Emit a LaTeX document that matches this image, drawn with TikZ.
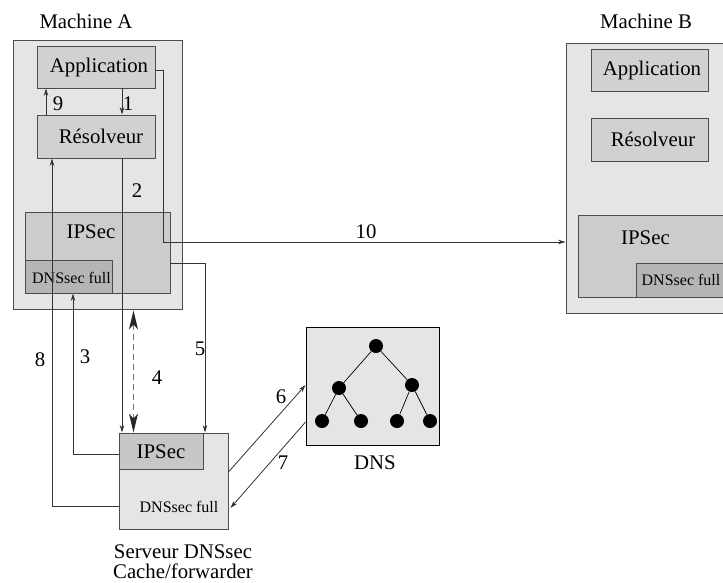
\documentclass[tikz,border=0pt]{standalone}
\usepackage{fontspec}
\setmainfont{Liberation Serif}
\usetikzlibrary{arrows.meta,calc}
\tikzset{
  outerbox/.style={draw=black!70, fill=black!10, line width=0.9pt, inner sep=0pt},
  innerbox/.style={draw=black!70, fill=black!18, line width=0.9pt, inner sep=0pt},
  ipbox/.style={draw=black!70, fill=black!20, line width=0.9pt, inner sep=0pt},
  fullbox/.style={draw=black!70, fill=black!29, line width=0.9pt, inner sep=0pt},
  txt/.style={inner sep=0pt, font=\fontsize{20.8}{22}\selectfont},
  smalltxt/.style={inner sep=0pt, font=\fontsize{16}{18}\selectfont},
  conn/.style={draw=black!80, line width=0.8pt},
  arr/.style={conn, -{Stealth[length=7.5pt,width=4.5pt]}},
  bighead/.tip={Stealth[length=19pt,width=9pt,inset=5pt,color=black!85,line width=0pt]},
  dashconn/.style={draw=black!55, line width=1.4pt, dash pattern=on 6pt off 4pt,
    arrows={bighead-bighead}},
  dotnode/.style={circle, fill=black, inner sep=0pt, minimum size=14pt},
  treeedge/.style={draw=black, line width=0.7pt}
}
\begin{document}
\begin{tikzpicture}[x=1pt,y=-1pt]
\useasboundingbox (0,0) rectangle (723,582);

% Machine A
\node[outerbox, minimum width=169pt, minimum height=269pt] (machA) at (97.5,174.5) {};
\node[innerbox, minimum width=118pt, minimum height=42pt] (appA) at (96,67) {};
\node[innerbox, minimum width=118pt, minimum height=43pt] (resA) at (96,136.5) {};
\node[ipbox, minimum width=145pt, minimum height=81pt] (ipsecA) at (97.5,252.5) {};
\node[fullbox, minimum width=87pt, minimum height=33pt] (dnsA) at (68.5,276.5) {};
\node[txt] (tMA) at (86,21) {Machine A};
\node[txt] (tAppA) at (99,67) {Application};
\node[txt] (tResA) at (101,136.5) {Résolveur};
\node[txt] (tIpA) at (91,232) {IPSec};
\node[smalltxt] (tDnsA) at (71.5,278) {DNSsec full};

% Machine B
\node[outerbox, minimum width=159pt, minimum height=270pt] (machB) at (645.5,178) {};
\node[innerbox, minimum width=117pt, minimum height=42pt] (appB) at (649.5,70) {};
\node[innerbox, minimum width=117pt, minimum height=43pt] (resB) at (649.5,139.5) {};
\node[ipbox, minimum width=147pt, minimum height=82pt] (ipsecB) at (651.5,256) {};
\node[fullbox, minimum width=89pt, minimum height=34pt] (dnsB) at (680.5,280) {};
\node[txt] (tMB) at (646,21) {Machine B};
\node[txt] (tAppB) at (652,70) {Application};
\node[txt] (tResB) at (653,139.5) {Résolveur};
\node[txt] (tIpB) at (645.5,238) {IPSec};
\node[smalltxt] (tDnsB) at (681,280) {DNSsec full};

% Serveur
\node[outerbox, minimum width=109pt, minimum height=96pt] (srv) at (173.5,481) {};
\node[fullbox, fill=black!22, minimum width=84pt, minimum height=36pt] (srvip) at (161,451) {};
\node[txt] (tSrvIp) at (161,452) {IPSec};
\node[smalltxt] (tSrvDns) at (179,507) {DNSsec full};
\node[txt] (tSrv1) at (183,552) {Serveur DNSsec};
\node[txt] (tSrv2) at (183,571) {Cache/forwarder};

% DNS
\node[outerbox, draw=black, minimum width=133pt, minimum height=118pt] (dnsbox) at (372.5,386) {};
\node[txt] (tDNS) at (375,463) {DNS};
\node[dotnode] (r) at (376,346) {};
\node[dotnode] (m1) at (339,388) {};
\node[dotnode] (m2) at (412,385) {};
\node[dotnode] (l1) at (322,421) {};
\node[dotnode] (l2) at (361,421) {};
\node[dotnode] (l3) at (397,421) {};
\node[dotnode] (l4) at (430,421) {};
\draw[treeedge] (r) -- (m1) (r) -- (m2) (m1) -- (l1) (m1) -- (l2) (m2) -- (l3) (m2) -- (l4);

% coordinates for connector columns
\coordinate (x9) at (46,100);
\coordinate (x1) at (122,100);
\coordinate (x4) at (133.5,100);
\coordinate (x3) at (73,100);
\coordinate (x8) at (52,100);
\coordinate (x5) at (205,100);
\coordinate (k10) at (163,242);

% connectors
\draw[arr] (resA.north -| x9) -- (appA.south -| x9);
\draw[arr] (appA.south -| x1) -- (resA.north -| x1);
\draw[arr] (resA.south -| x1) -- (srvip.north -| x1);
\draw[dashconn] ([yshift=-1pt]machA.south -| x4) -- (srvip.north -| x4);
\draw[arr] ([yshift=-3pt]appA.east) -| (k10) -- (k10 -| machB.west);
\draw[arr] ([yshift=-10.5pt]ipsecA.east) -| (srv.north -| x5);
\draw[arr] ([yshift=-3pt]srvip.west) -| (dnsA.south -| x3);
\draw[arr] ([yshift=-25pt]srv.west) -| (resA.south -| x8);
\draw[arr] ([yshift=9pt]srv.east) -- ([yshift=1pt]dnsbox.west);
\draw[arr] ([yshift=-36pt]dnsbox.west) -- ([yshift=-27pt,xshift=2pt]srv.east);

% labels
\node[txt] (n9) at (58,104) {9};
\node[txt] (n1) at (128,104) {1};
\node[txt] (n2) at (137,191) {2};
\node[txt] (n10) at (366,232) {10};
\node[txt] (n8) at (40,360) {8};
\node[txt] (n3) at (85,357) {3};
\node[txt] (n4) at (157,378) {4};
\node[txt] (n5) at (200,349) {5};
\node[txt] (n6) at (281,397) {6};
\node[txt] (n7) at (283,463) {7};
\end{tikzpicture}
\end{document}
